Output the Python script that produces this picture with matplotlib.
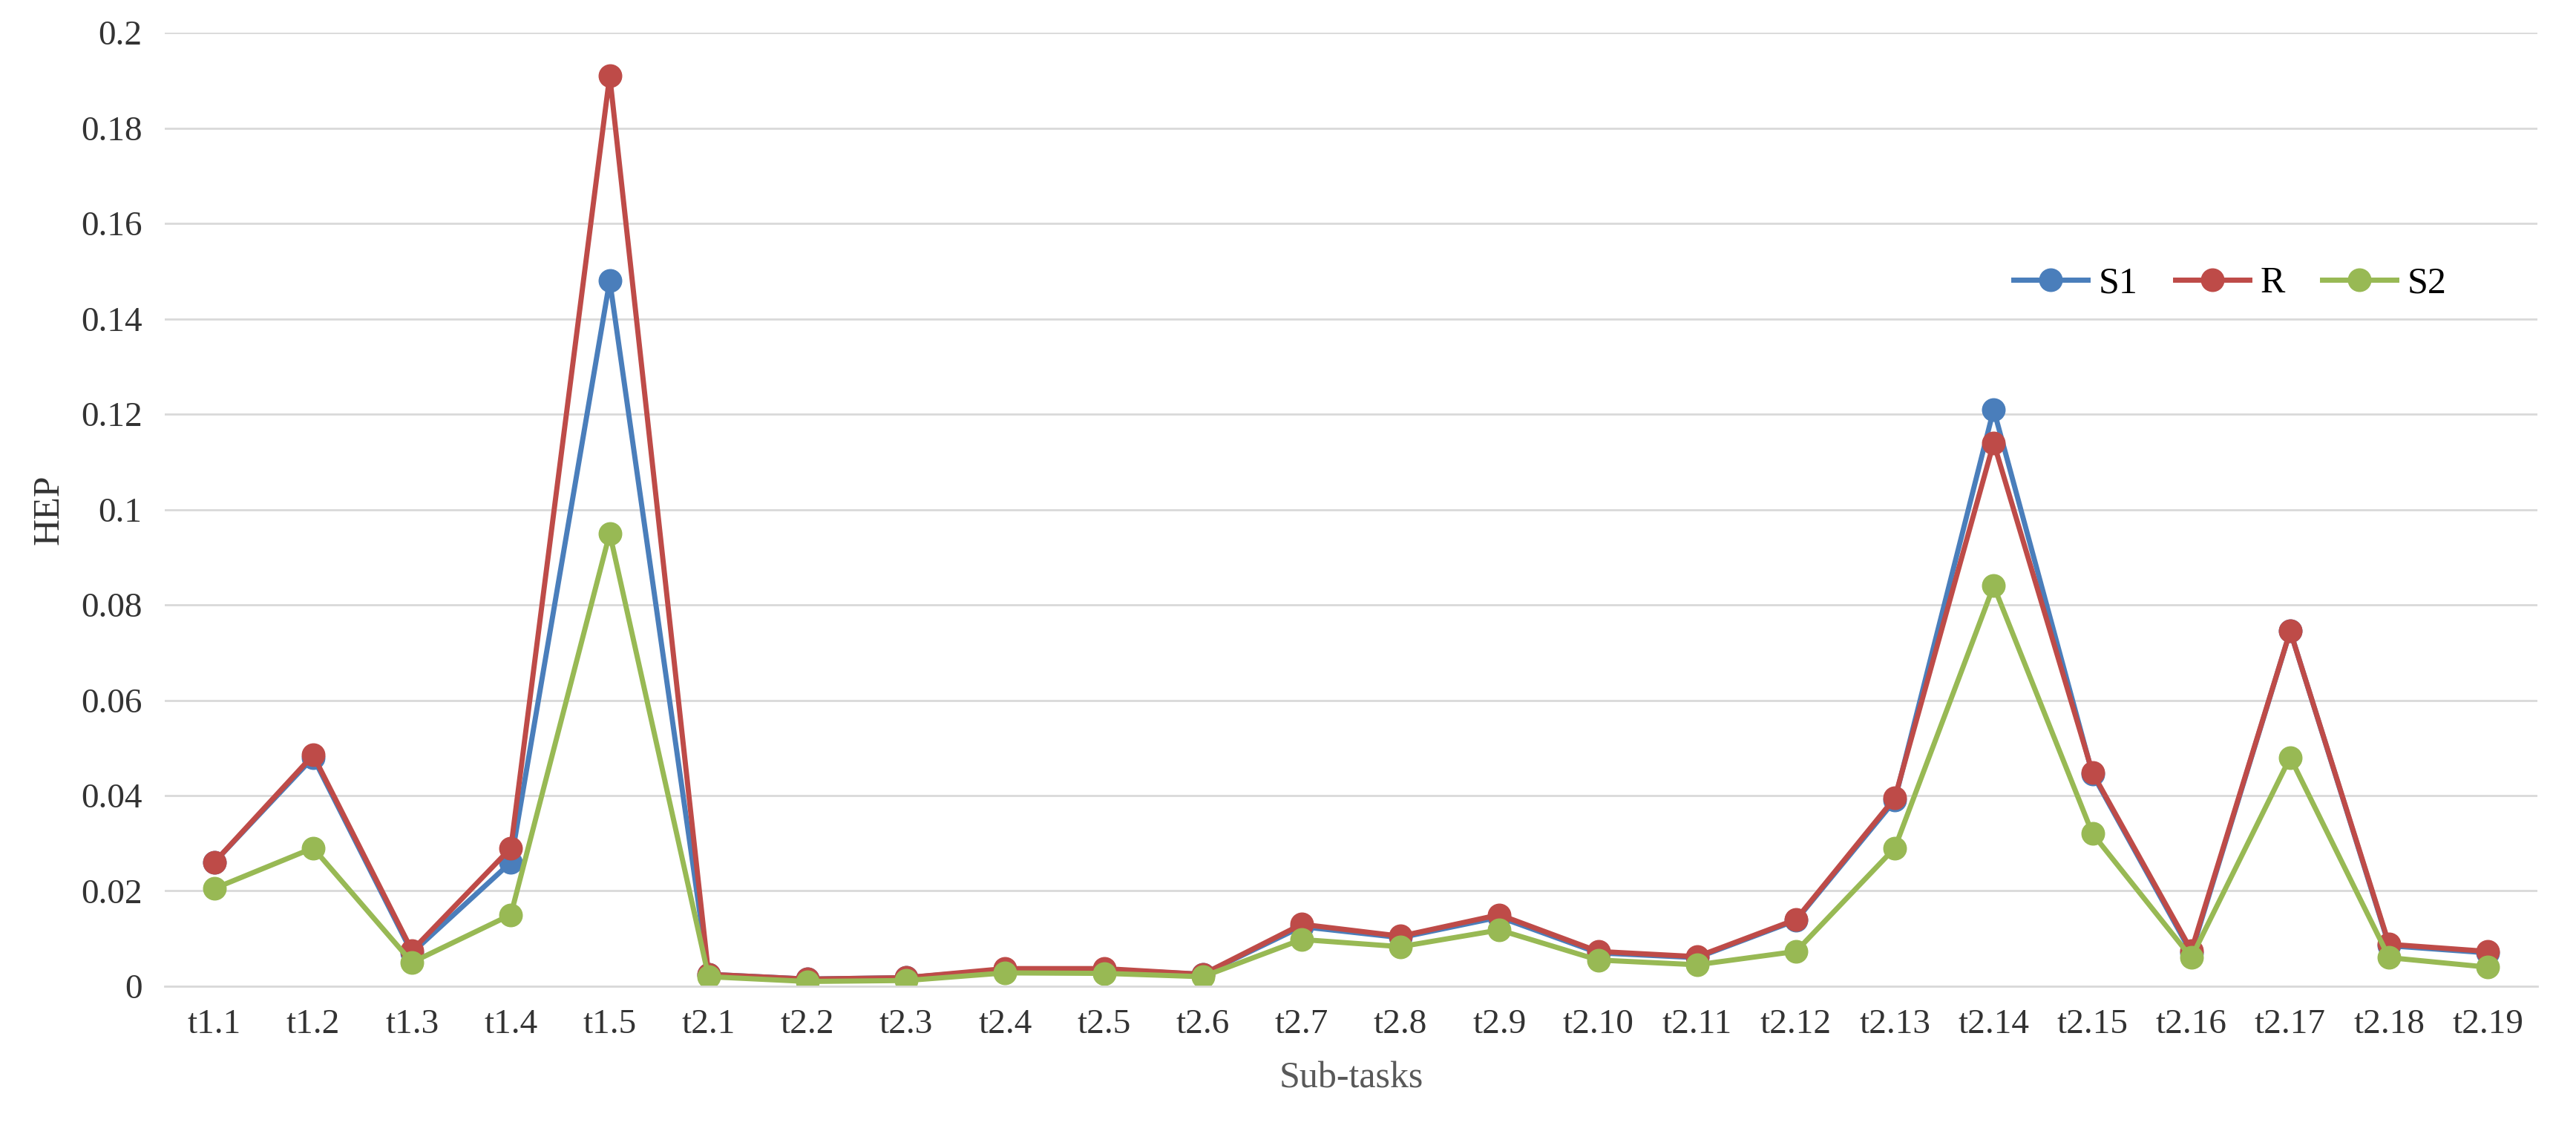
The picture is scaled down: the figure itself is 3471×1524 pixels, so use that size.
import matplotlib
matplotlib.use("Agg")
import matplotlib.pyplot as plt

categories = ["t1.1","t1.2","t1.3","t1.4","t1.5","t2.1","t2.2","t2.3","t2.4","t2.5","t2.6","t2.7","t2.8","t2.9","t2.10","t2.11","t2.12","t2.13","t2.14","t2.15","t2.16","t2.17","t2.18","t2.19"]
s1 = [0.026,0.048,0.007,0.026,0.148,0.0025,0.0015,0.0018,0.0035,0.0035,0.0025,0.0125,0.0102,0.0145,0.007,0.006,0.0138,0.039,0.121,0.0445,0.007,0.0745,0.0085,0.007]
r  = [0.026,0.0485,0.0075,0.029,0.191,0.0025,0.0015,0.0018,0.0037,0.0037,0.0025,0.013,0.0105,0.015,0.0073,0.0062,0.014,0.0395,0.114,0.0448,0.0075,0.0745,0.0088,0.0073]
s2 = [0.0205,0.029,0.005,0.015,0.095,0.002,0.001,0.0012,0.0028,0.0027,0.002,0.0098,0.0083,0.0118,0.0055,0.0045,0.0073,0.029,0.084,0.032,0.006,0.048,0.006,0.004]
yticks = [0,0.02,0.04,0.06,0.08,0.1,0.12,0.14,0.16,0.18,0.2]
ylabels = ["0","0.02","0.04","0.06","0.08","0.1","0.12","0.14","0.16","0.18","0.2"]

plt.rcParams['font.family'] = ['Liberation Serif', 'DejaVu Serif']
fig = plt.figure(figsize=(34.71, 15.24), dpi=100)
ax = fig.add_axes([0.064, 0.128, 0.921, 0.843])
x = range(len(categories))
kw = dict(lw=5, marker='o', ms=22)
ax.plot(x, s1, color='#4A7EBB', label='S1', **kw)
ax.plot(x, r, color='#BE4B48', label='R', **kw)
ax.plot(x, s2, color='#98B954', label='S2', **kw)
ax.set_xlim(-0.5, len(categories)-0.5)
ax.set_ylim(0, 0.2)
ax.set_yticks(yticks)
ax.set_yticklabels(ylabels)
ax.set_xticks(list(x))
ax.set_xticklabels(categories)
ax.grid(axis='y', color='#D9D9D9', lw=2)
ax.set_axisbelow(True)
for s in ['top','right','left']:
    ax.spines[s].set_visible(False)
ax.spines['bottom'].set_color('#D9D9D9'); ax.spines['bottom'].set_linewidth(2)
ax.tick_params(length=0, labelsize=34, colors='#333333', pad=22)
ax.set_xlabel('Sub-tasks', fontsize=36, color='#595959', labelpad=20)
ax.set_ylabel('HEP', fontsize=36, color='#333333', labelpad=14)
ax.legend(loc='upper left', bbox_to_anchor=(0.765, 0.79), ncol=3, frameon=False, fontsize=36,
          handlelength=2.0, columnspacing=1.0, handletextpad=0.3)
fig.savefig('out.png', dpi=100, facecolor='white')
